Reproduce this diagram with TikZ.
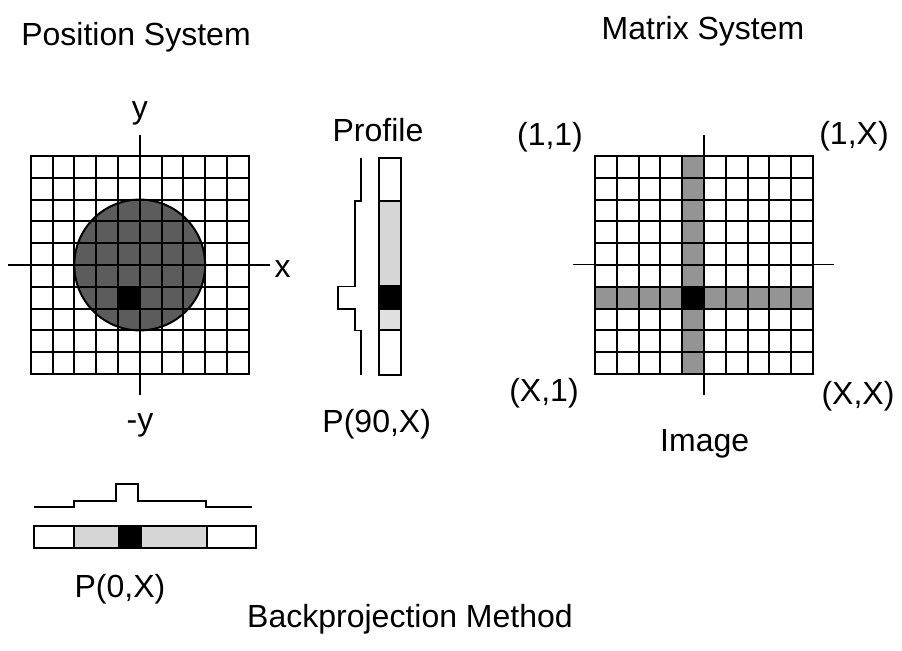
\documentclass[tikz,border=0pt]{standalone}
\usepackage{fontspec}
\setmainfont{Liberation Sans}
\begin{document}
\begin{tikzpicture}[x=0.5pt,y=-0.5pt,
  lbl/.style={font=\fontsize{16}{19}\selectfont, inner sep=0pt, anchor=base},
  cellline/.style={line width=1pt, line cap=rect},
  axisline/.style={line width=0.8pt},
  profline/.style={line width=0.9pt, line join=miter},
  stripbox/.style={line width=1pt, draw=black},
  discfill/.style={fill=black!64},
  crossfill/.style={fill=black!42},
  stripfill/.style={fill=black!16},
  stripfilllight/.style={fill=black!12}]
\useasboundingbox (0,0) rectangle (902,651);

% ---------- position system: disc on a 10x10 pixel grid ----------
\fill[discfill] (139.7,265) circle[radius=65.4];
\fill[black] (117.9,286.8) rectangle (139.7,308.6);
\foreach \i in {0,...,10}{
  \draw[cellline] ({30.7+\i*21.8},156) -- ({30.7+\i*21.8},374);
  \draw[cellline] (30.7,{156+\i*21.8}) -- (248.7,{156+\i*21.8});
}
\draw[line width=1pt] (139.7,265) circle[radius=65.4];
\draw[axisline] (139.7,135) -- (139.7,395);
\draw[axisline] (8,265) -- (270,265);

\node[lbl] (ylab) at (140,119) {y};
\node[lbl] (mylab) at (140,431) {-y};
\node[lbl] (xlab) at (282.5,278) {x};

% ---------- vertical projection P(90,X) ----------
\fill[stripfill] (379.3,201) rectangle (401.1,286.5);
\fill[black] (379.3,286.5) rectangle (401.1,308.8);
\fill[stripfilllight] (379.3,308.8) rectangle (401.1,330.5);
\draw[stripbox] (379.3,157.7) rectangle (401.1,375);
\foreach \yy in {201,286.5,308.8,330.5}
  \draw[line width=1pt] (379.3,\yy) -- (401.1,\yy);
\draw[profline] (360.7,158) -- (360.7,201) -- (355,201) -- (355,286.5)
  -- (338.3,286.5) -- (338.3,308.8) -- (355,308.8) -- (355,330.5)
  -- (360.7,330.5) -- (360.7,375);
\node[lbl] (proflab) at (378,142) {Profile};
\node[lbl] (p90) at (376.7,433) {P(90,X)};

% ---------- horizontal projection P(0,X) ----------
\fill[stripfill] (74.3,526) rectangle (119,548.3);
\fill[black] (119,526) rectangle (141,548.3);
\fill[stripfill] (141,526) rectangle (206.7,548.3);
\draw[stripbox] (34,526) rectangle (256,548.3);
\foreach \xx in {74.3,119,141,206.7}
  \draw[line width=1pt] (\xx,526) -- (\xx,548.3);
\draw[profline] (34,506.7) -- (74.3,506.7) -- (74.3,501) -- (116,501)
  -- (116,484.3) -- (137.7,484.3) -- (137.7,501) -- (205.7,501)
  -- (205.7,506.7) -- (251.7,506.7);
\node[lbl] (p0) at (120,598) {P(0,X)};

% ---------- matrix system: backprojected image ----------
\foreach \r in {0,...,9}
  \fill[crossfill] (682.2,{156+\r*21.8}) rectangle ++(21.8,21.8);
\foreach \k in {0,...,9}
  \fill[crossfill] ({595+\k*21.8},286.8) rectangle ++(21.8,21.8);
\fill[black] (682.2,286.8) rectangle (704,308.6);
\foreach \i in {0,...,10}{
  \draw[cellline] ({595+\i*21.8},156) -- ({595+\i*21.8},374);
  \draw[cellline] (595,{156+\i*21.8}) -- (813,{156+\i*21.8});
}
\draw[axisline] (704,135) -- (704,395);
\draw[axisline] (573,264.6) -- (834,264.6);

\node[lbl] (c11) at (550,146) {(1,1)};
\node[lbl] (c1x) at (854,145) {(1,X)};
\node[lbl] (cx1) at (544,402) {(X,1)};
\node[lbl] (cxx) at (858,405) {(X,X)};
\node[lbl] (imglab) at (704.7,452) {Image};

% ---------- titles ----------
\node[lbl] (postitle) at (136,46) {Position System};
\node[lbl] (mattitle) at (703,40) {Matrix System};
\node[lbl] (methtitle) at (410,628) {Backprojection Method};
\end{tikzpicture}
\end{document}
